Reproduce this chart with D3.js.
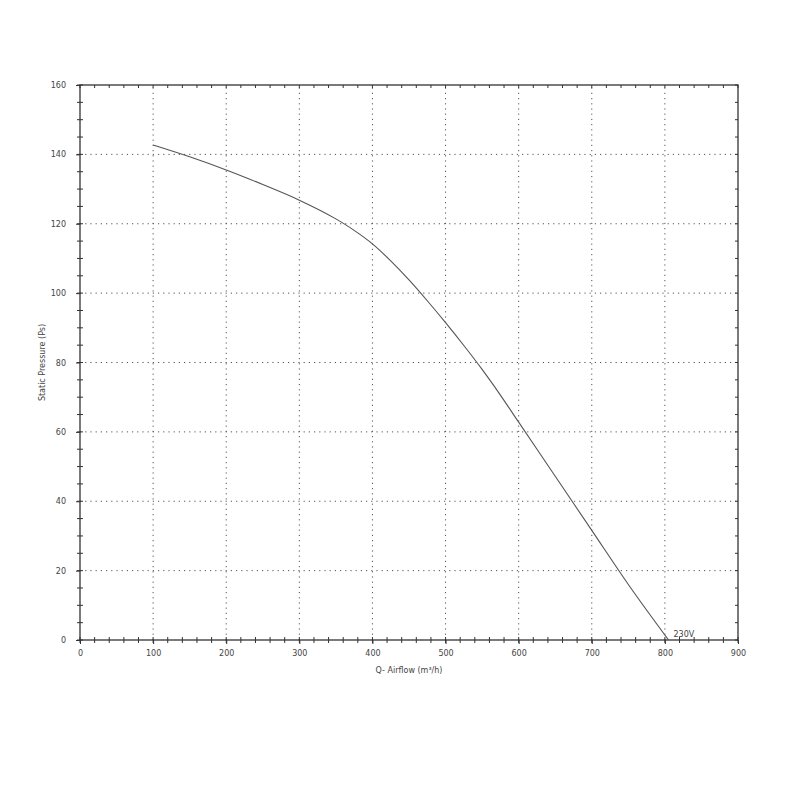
<!DOCTYPE html>
<html><head><meta charset="utf-8">
<script src="https://cdn.jsdelivr.net/npm/d3@7"></script>
<style>body{margin:0;background:#fff}svg{display:block}</style>
</head><body>
<script>
const airflow = [100,150,200,250,300,350,375,400,425,450,475,500,525,550,575,600,650,700,750,805];
const pressure = [142.7,139.3,135.5,131.3,126.8,121.4,118.1,114.2,109.3,103.8,97.8,91.5,84.9,78.0,70.6,62.8,47.2,31.6,16.0,0];
const xTicks = [0,100,200,300,400,500,600,700,800,900];
const yTicks = [0,20,40,60,80,100,120,140,160];
const curveLabel = "230V";
const xLabel = "Q- Airflow (m³/h)";
const yLabel = "Static Pressure (Ps)";

const W=800,H=800;
const m={l:80,r:62,t:85,b:160};
const svg=d3.select("body").append("svg").attr("width",W).attr("height",H);
const x=d3.scaleLinear().domain([0,900]).range([m.l,W-m.r]);
const y=d3.scaleLinear().domain([0,160]).range([H-m.b,m.t]);
const font="DejaVu Sans, Verdana, sans-serif";
const ink="#333";

// grid
const g=svg.append("g");
g.selectAll("line.gx").data(xTicks.filter(d=>d>0&&d<900)).join("line")
 .attr("x1",d=>x(d)).attr("x2",d=>x(d)).attr("y1",y(0)).attr("y2",y(160))
 .attr("stroke","#555").attr("stroke-width",1).attr("stroke-dasharray","1.2,4");
g.selectAll("line.gy").data(yTicks.filter(d=>d>0&&d<160)).join("line")
 .attr("y1",d=>y(d)).attr("y2",d=>y(d)).attr("x1",x(0)).attr("x2",x(900))
 .attr("stroke","#555").attr("stroke-width",1).attr("stroke-dasharray","1.2,4");

// border
svg.append("rect").attr("x",x(0)).attr("y",y(160)).attr("width",x(900)-x(0)).attr("height",y(0)-y(160))
 .attr("fill","none").attr("stroke",ink).attr("stroke-width",1.3);

// minor ticks
const xMinor=d3.range(0,901,20), yMinor=d3.range(0,161,5);
svg.append("g").selectAll("line").data(xMinor).join("line")
 .attr("x1",d=>x(d)).attr("x2",d=>x(d)).attr("y1",y(0)-3).attr("y2",y(0)+3).attr("stroke",ink);
svg.append("g").selectAll("line").data(xMinor).join("line")
 .attr("x1",d=>x(d)).attr("x2",d=>x(d)).attr("y1",y(160)).attr("y2",y(160)+3).attr("stroke",ink);
svg.append("g").selectAll("line").data(yMinor).join("line")
 .attr("y1",d=>y(d)).attr("y2",d=>y(d)).attr("x1",x(0)-3).attr("x2",x(0)+3).attr("stroke",ink);
svg.append("g").selectAll("line").data(yMinor).join("line")
 .attr("y1",d=>y(d)).attr("y2",d=>y(d)).attr("x1",x(900)-3).attr("x2",x(900)).attr("stroke",ink);

// axes labels via d3 axes (no domain)
const xa=svg.append("g").attr("transform",`translate(0,${y(0)})`)
 .call(d3.axisBottom(x).tickValues(xTicks).tickSize(4).tickPadding(6).tickFormat(d3.format("d")));
const ya=svg.append("g").attr("transform",`translate(${x(0)},0)`)
 .call(d3.axisLeft(y).tickValues(yTicks).tickSize(4).tickPadding(10).tickFormat(d3.format("d")));
[xa,ya].forEach(a=>{a.select(".domain").remove();
 a.selectAll("line").attr("stroke",ink);
 a.selectAll("text").attr("font-family",font).attr("font-size",8).attr("fill","#444");});

// curve
const pts=airflow.map((d,i)=>[d,pressure[i]]);
svg.append("path").datum(pts)
 .attr("d",d3.line().x(d=>x(d[0])).y(d=>y(d[1])).curve(d3.curveMonotoneX))
 .attr("fill","none").attr("stroke","#555").attr("stroke-width",1.1);
svg.append("text").attr("x",x(airflow[airflow.length-1])+5).attr("y",y(0)-3)
 .attr("font-family",font).attr("font-size",8).attr("fill","#444").text(curveLabel);

// titles
svg.append("text").attr("x",(x(0)+x(900))/2).attr("y",y(0)+33).attr("text-anchor","middle")
 .attr("font-family",font).attr("font-size",8).attr("fill","#444").text(xLabel);
svg.append("text").attr("transform",`translate(45,${(y(0)+y(160))/2}) rotate(-90)`).attr("text-anchor","middle")
 .attr("font-family",font).attr("font-size",8).attr("fill","#444").text(yLabel);
</script>
</body></html>
